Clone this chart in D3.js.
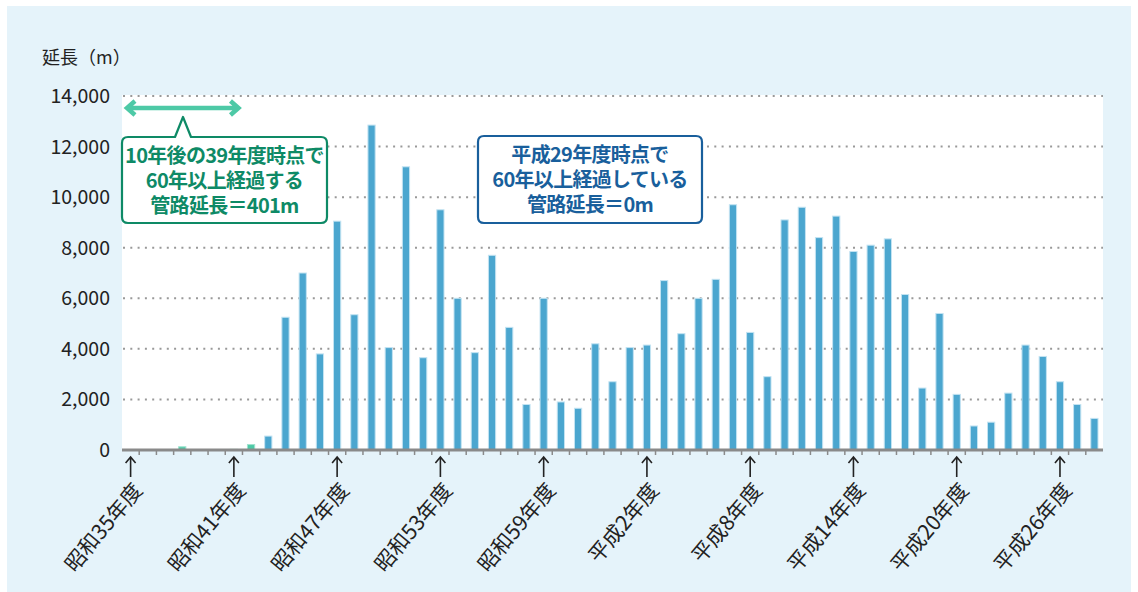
<!DOCTYPE html>
<html>
<head>
<meta charset="utf-8">
<script src="https://cdn.jsdelivr.net/npm/d3@7"></script>
<style>
  body { margin: 0; background: #fff; }
  svg { display: block; font-family: "Noto Sans CJK JP", "Noto Sans", sans-serif; }
</style>
</head>
<body>
<div id="chart"></div>
<script>

// categories (fiscal years)
const categories = [
  '昭和35年度', '昭和36年度', '昭和37年度', '昭和38年度', '昭和39年度', '昭和40年度',
  '昭和41年度', '昭和42年度', '昭和43年度', '昭和44年度', '昭和45年度', '昭和46年度',
  '昭和47年度', '昭和48年度', '昭和49年度', '昭和50年度', '昭和51年度', '昭和52年度',
  '昭和53年度', '昭和54年度', '昭和55年度', '昭和56年度', '昭和57年度', '昭和58年度',
  '昭和59年度', '昭和60年度', '昭和61年度', '昭和62年度', '昭和63年度', '平成元年度',
  '平成2年度', '平成3年度', '平成4年度', '平成5年度', '平成6年度', '平成7年度',
  '平成8年度', '平成9年度', '平成10年度', '平成11年度', '平成12年度', '平成13年度',
  '平成14年度', '平成15年度', '平成16年度', '平成17年度', '平成18年度', '平成19年度',
  '平成20年度', '平成21年度', '平成22年度', '平成23年度', '平成24年度', '平成25年度',
  '平成26年度', '平成27年度', '平成28年度'
];

// pipe length (m) per year
const lengths = [
  0, 0, 0, 128, 16, 16,
  26, 215, 550, 5250, 7000, 3800,
  9050, 5350, 12850, 4050, 11200, 3650,
  9500, 6000, 3850, 7700, 4850, 1800,
  6000, 1900, 1650, 4200, 2700, 4050,
  4150, 6700, 4600, 6000, 6750, 9700,
  4650, 2900, 9100, 9600, 8400, 9250,
  7850, 8100, 8350, 6150, 2450, 5400,
  2200, 950, 1100, 2250, 4150, 3700,
  2700, 1800, 1250
];

// years that will pass 60 years within 10 years (green)
const soonOld = ['昭和38年度', '昭和39年度', '昭和40年度', '昭和41年度', '昭和42年度'];

const tickLabels = [
  '昭和35年度', '昭和41年度', '昭和47年度', '昭和53年度', '昭和59年度',
  '平成2年度', '平成8年度', '平成14年度', '平成20年度', '平成26年度'
];

const yTicks = [0, 2000, 4000, 6000, 8000, 10000, 12000, 14000];

const width = 1138;
const height = 592;
const margin = { top: 96, right: 35, bottom: 142, left: 122 };

const svg = d3.select('#chart').append('svg')
  .attr('width', width)
  .attr('height', height);

// panel background
svg.append('rect')
  .attr('x', 7).attr('y', 6)
  .attr('width', 1124).attr('height', height - 6)
  .attr('fill', '#e5f3fa');

const x = d3.scaleBand()
  .domain(categories)
  .range([margin.left, width - margin.right])
  .padding(0);

const y = d3.scaleLinear()
  .domain([0, 14000])
  .range([height - margin.bottom, margin.top]);

const x0 = margin.left;
const x1 = width - margin.right;
const y0 = y(0);

// white plot area
svg.append('rect')
  .attr('x', x0).attr('y', y(14000) - 1)
  .attr('width', x1 - x0).attr('height', y0 - y(14000) + 1)
  .attr('fill', '#fff');

// dotted grid
svg.append('g')
  .selectAll('line')
  .data(yTicks.filter(d => d > 0))
  .join('line')
    .attr('x1', x0 + 1).attr('x2', x1)
    .attr('y1', d => y(d)).attr('y2', d => y(d))
    .attr('stroke', '#999')
    .attr('stroke-width', 2)
    .attr('stroke-dasharray', '2 5.3');

// y tick labels
svg.append('g')
  .selectAll('text')
  .data(yTicks)
  .join('text')
    .attr('x', 110)
    .attr('y', d => y(d))
    .attr('dy', '0.36em')
    .attr('text-anchor', 'end')
    .attr('font-size', 19.5)
    .attr('fill', '#222')
    .text(d => d3.format(',')(d));

// y title
svg.append('text')
  .attr('x', 42).attr('y', 64)
  .attr('font-size', 18)
  .attr('fill', '#222')
  .text('延長（m）');

// bars
const bw = x.bandwidth() * 0.42;
svg.append('g')
  .selectAll('rect')
  .data(categories.map((c, i) => ({ c, v: lengths[i] })).filter(d => d.v > 0))
  .join('rect')
    .attr('x', d => x(d.c) + (x.bandwidth() - bw) / 2)
    .attr('y', d => y(d.v))
    .attr('width', bw)
    .attr('height', d => y0 - y(d.v))
    .attr('fill', d => soonOld.includes(d.c) ? '#4dc9a6' : '#4ba6cf')
    .attr('stroke', d => soonOld.includes(d.c) ? '#9fe3cf' : '#c3e3f2')
    .attr('stroke-width', 1);

// x axis line and boundary ticks
svg.append('g')
  .selectAll('line')
  .data(categories.slice(1))
  .join('line')
    .attr('x1', d => x(d)).attr('x2', d => x(d))
    .attr('y1', y0).attr('y2', y0 + 5)
    .attr('stroke', '#8a8a8a')
    .attr('stroke-width', 1.5);

svg.append('line')
  .attr('x1', x0).attr('x2', x1)
  .attr('y1', y0).attr('y2', y0)
  .attr('stroke', '#8a8a8a')
  .attr('stroke-width', 3);

// arrows and rotated labels
const lab = svg.append('g')
  .selectAll('g')
  .data(tickLabels)
  .join('g')
    .attr('transform', d => `translate(${x(d) + x.bandwidth() / 2},0)`);

lab.append('path')
  .attr('d', `M0,${y0 + 27}V${y0 + 7}M-5,${y0 + 13}L0,${y0 + 7}L5,${y0 + 13}`)
  .attr('fill', 'none')
  .attr('stroke', '#222')
  .attr('stroke-width', 1.6);

lab.append('text')
  .attr('transform', `translate(13,${y0 + 41}) rotate(-50)`)
  .attr('text-anchor', 'end')
  .attr('font-size', 21)
  .attr('fill', '#222')
  .text(d => d);

// green double arrow over the first years
const ay = 108;
const ax0 = x(categories[0]) + 2;
const ax1 = x(categories[7]) - 1;
svg.append('path')
  .attr('d', `M${ax0 + 3},${ay}H${ax1 - 3}M${ax0 + 11},${ay - 7}L${ax0 + 3},${ay}L${ax0 + 11},${ay + 7}M${ax1 - 11},${ay - 7}L${ax1 - 3},${ay}L${ax1 - 11},${ay + 7}`)
  .attr('fill', 'none')
  .attr('stroke', '#4dc9a6')
  .attr('stroke-width', 4.5);

// callout helper
function callout(bx, by, bw, bh, color, lines, pointer) {
  const g = svg.append('g');
  let d = `M${bx + 6},${by}`;
  if (pointer) {
    d += `H${pointer.x - 8}L${pointer.x},${pointer.y}L${pointer.x + 8},${by}`;
  }
  d += `H${bx + bw - 6}Q${bx + bw},${by} ${bx + bw},${by + 6}V${by + bh - 6}Q${bx + bw},${by + bh} ${bx + bw - 6},${by + bh}H${bx + 6}Q${bx},${by + bh} ${bx},${by + bh - 6}V${by + 6}Q${bx},${by} ${bx + 6},${by}Z`;
  g.append('path')
    .attr('d', d)
    .attr('fill', '#fff')
    .attr('stroke', color)
    .attr('stroke-width', 2.2)
    .attr('stroke-linejoin', 'round');
  // one text block, one tspan per line
  g.append('text')
    .attr('text-anchor', 'middle')
    .attr('font-size', 20)
    .attr('font-weight', 'bold')
    .attr('letter-spacing', -0.7)
    .attr('fill', color)
    .selectAll('tspan')
    .data(lines)
    .join('tspan')
      .attr('x', bx + bw / 2)
      .attr('y', (l, i) => by + 26 + i * 25)
      .text(l => l);
}

callout(122, 137, 205, 86, '#0e8a66',
  ['10年後の39年度時点で', '60年以上経過する', '管路延長＝401m'],
  { x: 183, y: 117 });

callout(478, 136, 224, 87, '#195f9c',
  ['平成29年度時点で', '60年以上経過している', '管路延長＝0m'],
  null);

</script>
</body>
</html>
